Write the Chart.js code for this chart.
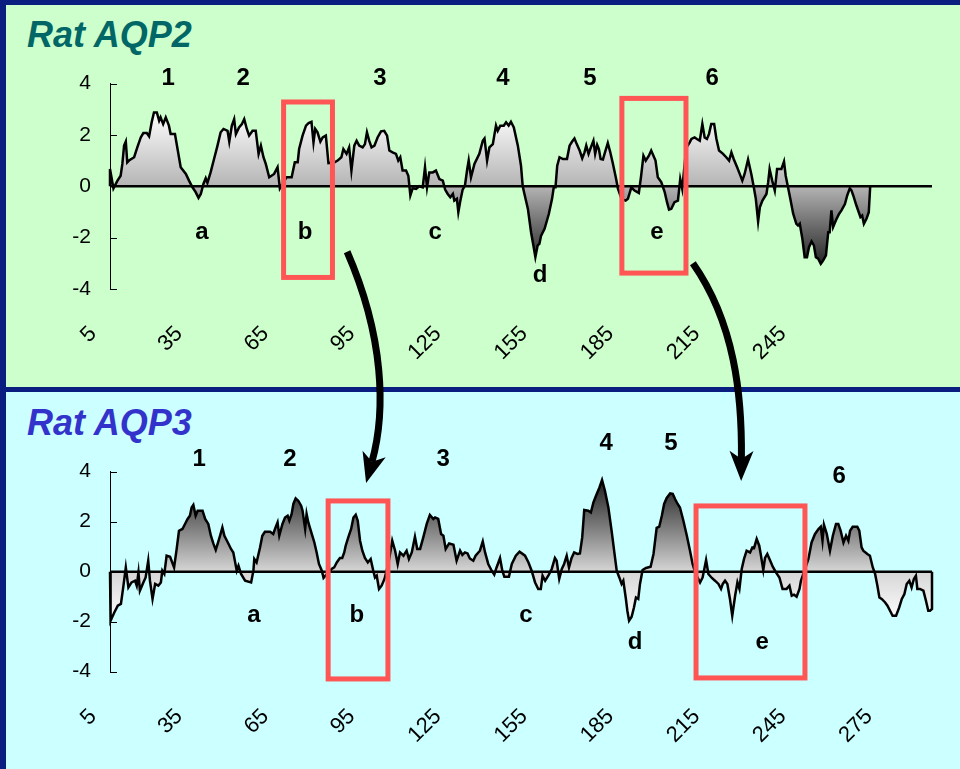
<!DOCTYPE html>
<html>
<head>
<meta charset="utf-8">
<script src="https://cdn.jsdelivr.net/npm/chart.js@4/dist/chart.umd.min.js"></script>
<style>
  html, body { margin: 0; padding: 0; width: 960px; height: 769px; overflow: hidden; background: #0a1e80; }
  .panel { position: absolute; left: 6px; width: 954px; }
  #pTop { top: 5px; height: 382px; background: #ccffcc; }
  #pBot { top: 392px; height: 377px; background: #ccffff; }
  canvas { position: absolute; left: 0; }
  #cTop { top: 0; }
  #cBot { top: 392px; }
  #cOver { top: 0; pointer-events: none; }
  .title { position: absolute; left: 27px; font: italic bold 36px "Liberation Sans", Arial, sans-serif; line-height: 36px; white-space: nowrap; }
</style>
</head>
<body>
<div class="panel" id="pTop"></div>
<div class="panel" id="pBot"></div>
<div class="title" style="top:17px;color:#006666">Rat AQP2</div>
<div class="title" style="top:405px;color:#3333cc">Rat AQP3</div>
<canvas id="cTop" width="960" height="387"></canvas>
<canvas id="cBot" width="960" height="377"></canvas>
<canvas id="cOver" width="960" height="769"></canvas>
<script>
// Hydropathy profiles: residue position and hydropathy value (sliding window average)
const AQP2_RES = [
  5, 5, 6.2, 7.6, 8.7, 9.3, 9.9, 10.5, 11, 11.6,
  13.4, 14.5, 15.7, 16.6, 17.8, 18.6, 19.5, 20.3, 21.3, 22.1,
  22.6, 23.5, 24.4, 25.5, 26.1, 27.6, 28.5, 29.6, 31.4, 32.5,
  33.7, 34.8, 35.8, 36.6, 37.5, 38.3, 38.9, 40, 41.2, 42.4,
  43.5, 44.5, 45.9, 46.5, 47.4, 48.2, 48.8, 49.9, 50.9, 51.7,
  52.6, 53.4, 54.6, 55.7, 56.7, 57.5, 58.4, 59.2, 60.4, 62.1,
  63.3, 64.1, 66.4, 68.2, 69.3, 70.3, 70.8, 72, 73.2, 74.1,
  75.1, 75.8, 76.4, 77.2, 78.2, 79, 80.1, 81, 83, 84.2,
  85.5, 86.2, 87.3, 88.2, 89, 90, 90.8, 91.7, 92.9, 93.7,
  94.4, 95.2, 96, 97, 98.1, 99.3, 100.4, 101.4, 102.2, 103.3,
  104.5, 105.3, 106, 106.8, 108, 108.8, 109.5, 110.3, 111.5, 112.6,
  113.8, 114.6, 115.3, 116.1, 117.3, 118.4, 119.6, 120.8, 121.6, 122.5,
  123.4, 124.3, 124.8, 125.7, 126.2, 126.9, 127.7, 128.5, 129.3, 129.8,
  130.6, 131.8, 133.5, 134.7, 135.3, 136.2, 137, 138.2, 138.7, 139.3,
  139.9, 140.8, 142, 142.8, 143.7, 144.5, 145.5, 146.9, 148, 148.6,
  149.2, 150.4, 151.5, 152.3, 153, 153.8, 154.4, 155, 156.2, 157.7,
  158.8, 159.4, 160, 160.6, 161.4, 162.6, 164, 164.9, 165.8, 166.6,
  167.4, 168.4, 169.3, 170.1, 170.7, 171.5, 172.2, 173.2, 173.8, 174.5,
  175.1, 175.7, 176.5, 177.4, 178.2, 179, 180, 181.1, 181.7, 183,
  184.4, 185.2, 186.4, 187.5, 189, 189.8, 190.6, 191.4, 192.5, 193.3,
  194.8, 195.6, 196.8, 198, 198.8, 199.5, 200.3, 201.4, 202.6, 203.4,
  204.1, 205.5, 206.7, 207.3, 208.4, 209.2, 210.2, 211.1, 211.9, 212.7,
  213.4, 214.2, 215.2, 216, 216.9, 218.3, 219.4, 220.4, 221.2, 222,
  223.2, 224.1, 225, 225.8, 227, 228.2, 229, 229.7, 230.5, 231.1,
  232, 233.4, 234, 234.5, 235.4, 236.3, 237.1, 238.6, 239.5, 240.1,
  240.9, 241.7, 242.7, 243.8, 244.4, 245, 245.9, 246.7, 247.5, 248.2,
  249.1, 249.9, 250.6, 251.4, 252.3, 253.1, 254.1, 254.9, 255.4, 256,
  256.6, 257.8, 258.7, 259.5, 260.7, 261.5, 262.4, 263, 263.6, 264.7,
  265.7, 266.1, 266.7, 267.3, 268.2, 269, 269.5
];
const AQP2_HYD = [
  0, 0.67, -0.08, 0.22, 0.41, 0.87, 1.58, 1.74, 0.93, 1.0,
  1.13, 1.51, 1.9, 2.07, 2.07, 1.94, 2.49, 2.87, 2.87, 2.55,
  2.68, 2.42, 2.68, 2.36, 2.03, 2.03, 1.45, 0.74, 0.48, 0.22,
  -0.04, -0.23, -0.45, -0.3, 0.09, 0.31, 0.13, 0.54, 1.06, 1.58,
  2.1, 2.23, 2.16, 1.74, 2.36, 2.61, 2.03, 2.29, 2.42, 2.61,
  2.23, 1.97, 2.16, 2.16, 1.26, 1.58, 1.13, 0.87, 0.35, 0.48,
  0.74, -0.08, 0.35, 0.35, 0.93, 0.93, 1.45, 1.97, 2.36, 2.46,
  2.51, 1.71, 2.23, 2.1, 1.74, 1.9, 1.97, 0.9, 0.92, 1.0,
  1.13, 1.45, 1.26, 1.51, 0.61, 1.58, 1.77, 1.58, 1.51, 1.64,
  2.1, 1.77, 1.51, 1.58, 1.9, 2.14, 2.16, 1.97, 1.39, 1.32,
  1.26, 1.0, 1.13, 0.61, 0.61, 0.41, -0.36, -0.08, -0.1, 0,
  -0.04, 0.74, -0.04, 0.54, 0.54, 0.61, 0.28, 0.22, -0.13, -0.3,
  -0.43, -0.3, -0.56, -0.49, -1.01, -0.56, -0.13, 0.03, 0.67, 1.0,
  0.35, 0.87, 1.26, 1.77, 1.86, 1.0, 1.51, 1.64, 1.97, 2.36,
  2.16, 2.36, 2.36, 2.49, 2.36, 2.51, 2.29, 1.58, 0.8, 0,
  -0.3, -0.88, -1.79, -2.3, -2.76, -2.3, -2.24, -1.92, -1.66, -1.07,
  -0.49, -0.04, -0.04, 0.8, 1.13, 1.06, 1.06, 1.58, 1.74, 1.86,
  1.64, 1.39, 1.09, 1.32, 1.58, 1.26, 1.48, 1.77, 1.26, 1.61,
  1.45, 1.06, 1.04, 1.39, 1.68, 1.35, 0.87, 0.28, -0.08, -0.5,
  -0.56, -0.49, -0.04, -0.17, -0.26, 0.41, 1.19, 1.0, 1.19, 1.39,
  1.0, 0.35, 0.16, -0.23, -0.62, -0.91, -0.88, -0.62, -0.56, 0.28,
  -0.1, 1.5, 1.71, 1.84, 1.9, 1.84, 1.77, 2.42, 1.9, 1.84,
  2.03, 2.42, 2.42, 1.84, 1.39, 1.26, 1.13, 1.0, 1.32, 1.06,
  0.74, 0.48, 0.22, 0.48, 1.04, 0.44, -0.04, -0.49, -1.37, -0.82,
  -0.56, -0.3, 0.16, 0.67, 0.22, -0.17, 0.67, 0.67, 0.96, 0.41,
  -0.04, -0.49, -1.07, -1.46, -1.53, -1.46, -2.05, -2.76, -2.76, -2.37,
  -2.15, -2.3, -2.76, -2.82, -3.02, -2.89, -2.69, -1.79, -1.79, -0.94,
  -1.59, -1.27, -1.07, -0.94, -0.69, -0.36, -0.08, -0.17, -0.36, -0.75,
  -1.07, -1.2, -1.14, -1.46, -1.27, -1.01, 0
];
const AQP3_RES = [
  5, 5.2, 6.5, 7.7, 8.8, 9.6, 10.5, 11.4, 12.5, 13.7,
  14.3, 14.9, 15.4, 16.6, 17.4, 18.3, 18.9, 19.8, 20.7, 21.8,
  22.7, 23.2, 23.9, 24.7, 25.9, 27.3, 28.2, 29, 30.2, 31.1,
  32, 32.8, 33.4, 34, 34.8, 35.5, 37.2, 38.1, 39.2, 40.1,
  41, 41.8, 42.5, 43.3, 44.1, 44.8, 46, 47.1, 47.9, 49.1,
  49.7, 50.6, 52, 54.1, 54.9, 55.2, 56, 57.2, 58, 58.9,
  60.7, 61.8, 62.6, 63.3, 63.9, 65, 65.9, 66.8, 67.4, 68.2,
  68.8, 69.6, 70.5, 71.5, 72, 72.9, 73.4, 74, 75.2, 76.1,
  76.9, 77.7, 78.7, 79.3, 80.5, 82.1, 83, 83.9, 85, 85.8,
  86.5, 87, 87.9, 88.9, 89.7, 90.5, 91.2, 92, 92.8, 93.7,
  94.7, 95.7, 96.6, 97.2, 97.8, 98.6, 99.5, 100.5, 101.8, 103.2,
  104.2, 105.1, 105.9, 107.1, 108.2, 109, 110, 111.1, 111.9, 112.9,
  114, 115.2, 116.3, 117.5, 118.1, 119.2, 120.2, 121, 121.8, 123,
  124.5, 125.6, 126.8, 127.6, 128.5, 129.4, 130.2, 131.4, 132.2, 133.7,
  134.7, 135.5, 136.6, 137.8, 138.7, 139.5, 140.7, 141.5, 142.2, 143.8,
  144.8, 146.2, 147.5, 149.4, 150.6, 151.7, 152.9, 154, 154.9, 155.5,
  156.4, 157.5, 158.7, 159.8, 160.4, 161.3, 162.2, 163, 163.9, 164.7,
  165.6, 166.5, 167.6, 168.5, 169.3, 170, 171.4, 172.3, 173.2, 174.1,
  175.3, 176.2, 177.2, 178.4, 179.6, 180.4, 181.3, 182.2, 183, 183.6,
  184.5, 185, 185.6, 186.5, 187.3, 188, 188.8, 189.4, 190.3, 191.5,
  193.1, 194.1, 195.2, 196.1, 197, 197.8, 198.7, 199.9, 200.8, 201.6,
  202.5, 203.3, 204.5, 205.7, 206.8, 207.7, 208.8, 210.3, 211.2, 212.4,
  213.2, 214.4, 215.5, 216.7, 217.6, 218.2, 219, 219.8, 220.7, 221.5,
  222.5, 223.3, 224, 224.8, 225.6, 226.5, 227.7, 228.5, 229.1, 230,
  230.9, 231.4, 232.3, 232.9, 233.7, 234.6, 235.6, 236.7, 237.9, 239,
  240.4, 241.4, 242.2, 243, 243.9, 244.9, 245.4, 246.8, 248, 249.1,
  250.3, 251.5, 252.3, 252.9, 253.4, 254.4, 255.5, 256.5, 257.6, 258.4,
  259.2, 260.2, 261.1, 261.9, 262.5, 263.4, 265, 265.7, 266.5, 267.1,
  268.5, 269.4, 270.4, 271.2, 272, 272.7, 273.5, 274.7, 275.5, 276.4,
  277.3, 278.5, 279.6, 280.5, 281.4, 282.2, 283.1, 283.9, 284.7, 285.4,
  285.9, 286.8, 288, 288.9, 289.7, 290.3, 291, 291
];
const AQP3_HYD = [
  0, -1.96, -1.63, -1.36, -1.29, -0.63, 0.17, -0.63, -0.43, -0.36,
  -0.56, -0.03, -0.76, -0.43, -0.23, 0.44, -0.36, -1.09, -0.49, -0.56,
  -0.43, 0.04, -0.09, 0.64, 0.6, 0.17, 0.91, 1.64, 1.71, 1.91,
  2.11, 2.24, 2.57, 2.67, 2.24, 2.44, 2.44, 2.11, 1.91, 1.44,
  1.11, 0.87, 1.13, 1.44, 1.77, 1.44, 1.17, 0.91, 0.77, 0.04,
  0.24, -0.09, -0.36, -0.43, 0.04, 0.51, 0.37, 0.97, 1.44, 1.6,
  1.6, 1.51, 1.77, 1.97, 1.44, 1.91, 2.17, 2.24, 2.04, 2.31,
  2.71, 2.93, 2.84, 2.64, 2.44, 1.71, 2.31, 1.97, 1.51, 1.17,
  0.77, 0.31, 0.04, -0.25, -0.1, 0.11, 0.17, 0.37, 0.55, 0.55,
  0.77, 1.04, 1.37, 1.71, 2.17, 2.28, 2.04, 1.24, 0.84, 0.55,
  0.37, 0.51, 0.04, -0.23, -0.16, -0.69, -0.56, -0.29, 0.3, 1.24,
  0.84, 0.31, 0.77, 0.64, 0.84, 0.51, 0.77, 1.4, 0.91, 0.91,
  1.37, 1.91, 2.27, 2.11, 2.17, 2.11, 1.51, 1.44, 0.91, 1.13,
  1.08, 0.44, 0.84, 0.67, 0.77, 0.73, 0.53, 0.44, 0.64, 0.84,
  1.21, 0.77, 0.31, 0.04, -0.12, 0.17, 0.55, 0.04, -0.2, -0.2,
  0.31, 0.64, 0.8, 0.64, 0.37, 0.04, -0.43, -0.69, -0.69, -0.16,
  -0.36, -0.16, 0.11, 0.55, 0.44, -0.29, 0.11, 0.31, 0.64, 0.17,
  0.55, 0.77, 0.71, 0.73, 1.37, 2.47, 2.44, 2.37, 2.77, 3.04,
  3.37, 3.67, 3.24, 2.57, 1.57, 0.84, 0.04, -0.23, -0.49, -0.36,
  -1.09, -1.56, -1.96, -1.8, -1.43, -1.03, -1.09, -0.49, 0.07, 0.15,
  0.2, 0.71, 1.75, 1.8, 2.24, 2.71, 2.95, 3.13, 3.11, 2.91,
  2.71, 2.57, 2.04, 1.44, 0.84, 0.31, -0.1, -0.43, -0.23, 0.47,
  -0.09, -0.25, -0.36, -0.49, -0.69, -0.49, -0.36, -0.49, -1.09, -1.76,
  -0.96, -0.43, -0.69, 0.11, 0.51, 0.84, 0.77, 0.97, 0.95, 1.31,
  1.04, 0.71, 0.07, 0.55, 0.71, 0.47, 0.2, -0.03, -0.23, -0.69,
  -0.69, -0.56, -0.96, -0.92, -1.0, -0.69, -0.36, 0.1, 0.51, 1.17,
  1.51, 1.71, 1.8, 1.24, 1.88, 1.51, 0.84, 1.44, 1.91, 1.91,
  1.64, 1.17, 1.44, 1.24, 1.64, 1.8, 1.8, 1.64, 0.97, 0.84,
  0.71, 0.64, 0.17, -0.09, -0.56, -1.03, -1.09, -1.23, -1.36, -1.56,
  -1.76, -1.76, -1.43, -1.09, -0.89, -0.49, -0.36, -0.63, -0.29, -0.16,
  -0.69, -0.69, -0.76, -1.16, -1.56, -1.56, -1.49, 0
];

// Axis ticks
const AQP2_XTICKS = [5, 35, 65, 95, 125, 155, 185, 215, 245];
const AQP3_XTICKS = [5, 35, 65, 95, 125, 155, 185, 215, 245, 275];
const Y_TICKS = [-4, -2, 0, 2, 4];

// Transmembrane segments (1-6) and connecting loops (a-e)
const SEGMENT_NAMES = ['1', '2', '3', '4', '5', '6'];
const LOOP_NAMES = ['a', 'b', 'c', 'd', 'e'];

const FONT = '"Liberation Sans", Arial, Helvetica, sans-serif';
Chart.defaults.font.family = FONT;
Chart.defaults.color = '#000';

function pts(res, val) { return res.map((r, i) => ({ x: r, y: val[i] })); }

function gradientFill(stops) {
  return (c) => {
    const chart = c.chart;
    if (!chart.chartArea) return 'rgba(0,0,0,0)';
    const y = chart.scales.y;
    const y0 = y.getPixelForValue(stops[0][0]);
    const y1 = y.getPixelForValue(stops[stops.length - 1][0]);
    const g = chart.ctx.createLinearGradient(0, y0, 0, y1);
    stops.forEach(([v, col]) => {
      const f = (y.getPixelForValue(v) - y0) / (y1 - y0);
      g.addColorStop(Math.min(1, Math.max(0, f)), col);
    });
    return g;
  };
}

// Zero line, inner tick marks, highlight boxes and segment labels
const decor = {
  id: 'decor',
  afterDatasetsDraw(chart, args, o) {
    const { ctx, chartArea: a, scales: { x, y } } = chart;
    ctx.save();
    const y0 = y.getPixelForValue(0);
    ctx.strokeStyle = '#000';
    ctx.lineWidth = 2.5;
    ctx.beginPath(); ctx.moveTo(a.left, y0); ctx.lineTo(a.right, y0); ctx.stroke();
    ctx.lineWidth = 1;
    y.ticks.forEach(t => {
      const py = Math.round(y.getPixelForValue(t.value)) + 0.5;
      ctx.beginPath(); ctx.moveTo(a.left, py); ctx.lineTo(a.left + 7, py); ctx.stroke();
    });
    ctx.strokeStyle = '#ff5555';
    ctx.lineWidth = 5;
    o.boxes.forEach(b => {
      const xa = x.getPixelForValue(b.from), xb = x.getPixelForValue(b.to);
      const ya = y.getPixelForValue(b.top), yb = y.getPixelForValue(b.bottom);
      ctx.strokeRect(xa, ya, xb - xa, yb - ya);
    });
    ctx.fillStyle = '#000';
    ctx.font = 'bold 24px ' + FONT;
    ctx.textAlign = 'center';
    ctx.textBaseline = 'middle';
    o.labels.forEach(l => ctx.fillText(l.text, x.getPixelForValue(l.at), y.getPixelForValue(l.level)));
    ctx.restore();
  }
};

function makeChart(id, res, val, xticks, stops, geom, notes) {
  return new Chart(document.getElementById(id), {
    type: 'line',
    data: {
      datasets: [{
        data: pts(res, val),
        borderColor: '#000',
        borderWidth: 2.5,
        pointRadius: 0,
        tension: 0,
        fill: 'origin',
        backgroundColor: gradientFill(stops),
        clip: 6
      }]
    },
    plugins: [decor],
    options: {
      responsive: false,
      animation: false,
      devicePixelRatio: 1,
      layout: { padding: { left: 0, right: 28, top: geom.top, bottom: 0 } },
      plugins: { legend: { display: false }, tooltip: { enabled: false }, decor: notes },
      scales: {
        x: {
          type: 'linear', min: 5, max: 291,
          afterBuildTicks: s => { s.ticks = xticks.map(v => ({ value: v })); },
          afterFit: s => { s.height = geom.xh; },
          grid: { display: false, drawTicks: false },
          border: { display: false },
          ticks: { autoSkip: false, minRotation: 45, maxRotation: 45, labelOffset: -17, padding: 32, font: { size: 22 }, color: '#000' }
        },
        y: {
          min: -4, max: 4,
          afterBuildTicks: s => { s.ticks = Y_TICKS.map(v => ({ value: v })); },
          afterFit: s => { s.width = 110; },
          grid: { display: false, drawTicks: false },
          border: { display: true, color: '#000', width: 1 },
          ticks: { padding: 19, font: { size: 21 }, color: '#000' }
        }
      }
    }
  });
}

const topChart = makeChart('cTop', AQP2_RES, AQP2_HYD, AQP2_XTICKS,
  [[2.9, '#ffffff'], [0, '#b4b4b4'], [-3.1, '#222222']],
  { top: 83.5, xh: 98 },
  {
    boxes: [{ from: 65.4, to: 82.4, top: 3.28, bottom: -3.55 }, { from: 183.1, to: 205.4, top: 3.42, bottom: -3.38 }],
    labels: [
      { text: SEGMENT_NAMES[0], at: 25.2, level: 4.2 }, { text: SEGMENT_NAMES[1], at: 51.3, level: 4.2 },
      { text: SEGMENT_NAMES[2], at: 98.9, level: 4.2 }, { text: SEGMENT_NAMES[3], at: 141.7, level: 4.2 },
      { text: SEGMENT_NAMES[4], at: 172, level: 4.2 }, { text: SEGMENT_NAMES[5], at: 214.5, level: 4.2 },
      { text: LOOP_NAMES[0], at: 37, level: -1.79 }, { text: LOOP_NAMES[1], at: 72.9, level: -1.79 },
      { text: LOOP_NAMES[2], at: 118.1, level: -1.79 }, { text: LOOP_NAMES[3], at: 154.6, level: -3.46 },
      { text: LOOP_NAMES[4], at: 195.3, level: -1.79 }
    ]
  });

const botChart = makeChart('cBot', AQP3_RES, AQP3_HYD, AQP3_XTICKS,
  [[3.7, '#1c1c1c'], [0, '#d6d6d6'], [-2, '#ffffff']],
  { top: 79.7, xh: 97.3 },
  {
    boxes: [{ from: 80.9, to: 101.7, top: 2.83, bottom: -4.29 }, { from: 208.9, to: 246.8, top: 2.63, bottom: -4.25 }],
    labels: [
      { text: SEGMENT_NAMES[0], at: 36, level: 4.5 }, { text: SEGMENT_NAMES[1], at: 67.6, level: 4.5 },
      { text: SEGMENT_NAMES[2], at: 120.9, level: 4.5 }, { text: SEGMENT_NAMES[3], at: 177.6, level: 5.15 },
      { text: SEGMENT_NAMES[4], at: 200.2, level: 5.15 }, { text: SEGMENT_NAMES[5], at: 258.7, level: 3.83 },
      { text: LOOP_NAMES[0], at: 55.1, level: -1.73 }, { text: LOOP_NAMES[1], at: 90.9, level: -1.73 },
      { text: LOOP_NAMES[2], at: 149.7, level: -1.73 }, { text: LOOP_NAMES[3], at: 187.7, level: -2.81 },
      { text: LOOP_NAMES[4], at: 231.9, level: -2.81 }
    ]
  });

// Curved arrows linking the highlighted regions of the two profiles
(function drawArrows() {
  const g = document.getElementById('cOver').getContext('2d');
  const botTop = 392;
  const tp = (r, v) => ({ x: topChart.scales.x.getPixelForValue(r), y: topChart.scales.y.getPixelForValue(v) });
  const bp = (r, v) => ({ x: botChart.scales.x.getPixelForValue(r), y: botChart.scales.y.getPixelForValue(v) + botTop });
  const links = [
    { s: tp(87.5, -2.55), t: bp(94.1, 3.55), c1: [37, 85], c2: [20, -72] },
    { s: tp(207.8, -3.0), t: bp(224.6, 3.63), c1: [42, 60], c2: [1, -85] }
  ];
  g.fillStyle = '#000';
  g.strokeStyle = '#000';
  links.forEach(l => {
    const p1 = { x: l.s.x + l.c1[0], y: l.s.y + l.c1[1] };
    const p2 = { x: l.t.x + l.c2[0], y: l.t.y + l.c2[1] };
    let dx = l.t.x - p2.x, dy = l.t.y - p2.y;
    const len = Math.hypot(dx, dy); dx /= len; dy /= len;
    const nx = -dy, ny = dx;
    const base = { x: l.t.x - dx * 22, y: l.t.y - dy * 22 };
    g.lineWidth = 7;
    g.lineCap = 'butt';
    g.beginPath();
    g.moveTo(l.s.x, l.s.y);
    g.bezierCurveTo(p1.x, p1.y, p2.x, p2.y, base.x, base.y);
    g.stroke();
    g.beginPath();
    g.moveTo(l.t.x, l.t.y);
    g.lineTo(l.t.x - dx * 30 + nx * 12, l.t.y - dy * 30 + ny * 12);
    g.lineTo(base.x, base.y);
    g.lineTo(l.t.x - dx * 30 - nx * 12, l.t.y - dy * 30 - ny * 12);
    g.closePath();
    g.fill();
  });
})();
</script>
</body>
</html>
